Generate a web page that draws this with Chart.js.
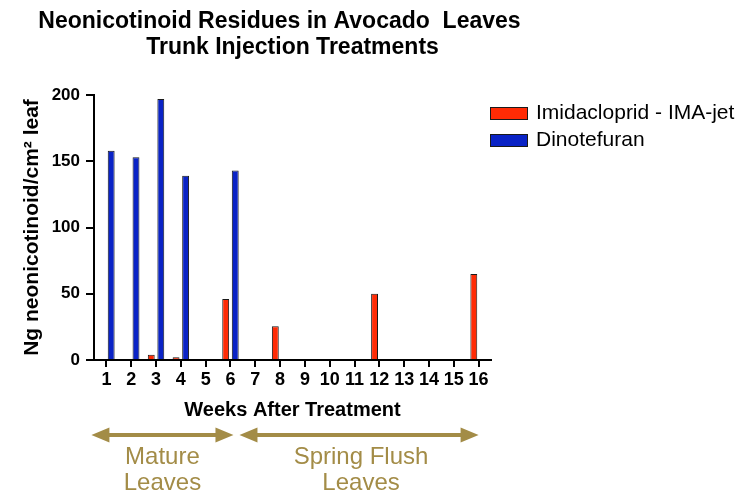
<!DOCTYPE html>
<html>
<head>
<meta charset="utf-8">
<script src="https://cdn.jsdelivr.net/npm/chart.js@4"></script>
<style>
  html, body { margin: 0; padding: 0; background: #fff; }
  #wrap { width: 744px; height: 496px; }
</style>
</head>
<body>
<div id="wrap"><canvas id="residueChart" width="744" height="496"></canvas></div>
<script>
// weeks after treatment
const weeks = ["1", "2", "3", "4", "5", "6", "7", "8", "9", "10", "11", "12", "13", "14", "15", "16"];
// ng neonicotinoid / cm2 leaf, null = no sample
const imidacloprid = [null, null, 4, 2, null, 46, null, 25.5, null, null, null, 50, null, null, null, 65];
const dinotefuran = [158, 153, 197, 139, null, 143, null, null, null, null, null, null, null, null, null, null];
const yTicks = [0, 50, 100, 150, 200];
const titleLines = ["Neonicotinoid Residues in Avocado  Leaves", "Trunk Injection Treatments"];

const fontFamily = "'Liberation Sans', Arial, sans-serif";
const gold = "#A38C47";

// title drawn by hand so line 1 isn't squeezed into the plot width
const topTitle = {
  id: "topTitle",
  afterDraw(chart) {
    const ctx = chart.ctx;
    const mid = (chart.chartArea.left + chart.chartArea.right) / 2;
    ctx.save();
    ctx.font = "bold 23px " + fontFamily;
    ctx.fillStyle = "#000";
    ctx.textAlign = "center";
    ctx.textBaseline = "middle";
    ctx.fillText(titleLines[0], mid - 13, 22);
    ctx.fillText(titleLines[1], mid, 48);
    ctx.restore();
  }
};

// legend drawn by hand: the built-in right legend gets capped too narrow
const sideLegend = {
  id: "sideLegend",
  afterDraw(chart) {
    const ctx = chart.ctx;
    const left = chart.chartArea.right - 1;
    ctx.save();
    ctx.font = "21px " + fontFamily;
    ctx.textBaseline = "middle";
    chart.data.datasets.forEach((ds, i) => {
      const cy = 113.5 + i * 27;
      ctx.fillStyle = ds.backgroundColor;
      ctx.fillRect(left, cy - 6.5, 38, 13);
      ctx.strokeStyle = ds.borderColor;
      ctx.lineWidth = 1;
      ctx.strokeRect(left + 0.5, cy - 6, 37, 12);
      ctx.fillStyle = "#000";
      ctx.fillText(ds.label, left + 46, cy);
    });
    ctx.restore();
  }
};

// arrows + "Mature Leaves" / "Spring Flush Leaves" under the x axis
const leafStages = {
  id: "leafStages",
  afterDraw(chart) {
    const ctx = chart.ctx;
    const x = chart.scales.x;
    const y = 435;

    function arrow(x1, x2) {
      const head = 18, half = 7.5;
      ctx.beginPath();
      ctx.moveTo(x1, y);
      ctx.lineTo(x1 + head, y - half);
      ctx.lineTo(x1 + head, y - 2);
      ctx.lineTo(x2 - head, y - 2);
      ctx.lineTo(x2 - head, y - half);
      ctx.lineTo(x2, y);
      ctx.lineTo(x2 - head, y + half);
      ctx.lineTo(x2 - head, y + 2);
      ctx.lineTo(x1 + head, y + 2);
      ctx.lineTo(x1 + head, y + half);
      ctx.closePath();
      ctx.fill();
    }

    ctx.save();
    ctx.fillStyle = gold;
    const a1 = x.getPixelForValue(0) - 15;
    const a2 = x.getPixelForValue(5) + 3;
    const b1 = x.getPixelForValue(5) + 9;
    const b2 = x.getPixelForValue(15);
    arrow(a1, a2);
    arrow(b1, b2);

    ctx.font = "24px " + fontFamily;
    ctx.textAlign = "center";
    ctx.textBaseline = "middle";
    ctx.fillText("Mature", (a1 + a2) / 2, 457);
    ctx.fillText("Leaves", (a1 + a2) / 2, 483);
    ctx.fillText("Spring Flush", (b1 + b2) / 2 + 2, 457);
    ctx.fillText("Leaves", (b1 + b2) / 2 + 2, 483);
    ctx.restore();
  }
};

const ctx = document.getElementById("residueChart").getContext("2d");
const chart = new Chart(ctx, {
  type: "bar",
  data: {
    labels: weeks,
    datasets: [
      {
        label: "Imidacloprid - IMA-jet",
        data: imidacloprid,
        backgroundColor: "#FF2B05",
        borderColor: "#1a1a1a",
        borderWidth: 1,
        categoryPercentage: 0.77,
        barPercentage: 0.72,
      },
      {
        label: "Dinotefuran",
        data: dinotefuran,
        backgroundColor: "#0A23C6",
        borderColor: "#1a1a1a",
        borderWidth: 1,
        categoryPercentage: 0.77,
        barPercentage: 0.72,
      },
    ],
  },
  options: {
    responsive: false,
    animation: false,
    layout: {
      padding: { top: 95, left: 10, right: 253, bottom: 74 },
    },
    plugins: {
      title: { display: false },
      legend: { display: false },
      tooltip: { enabled: false },
    },
    scales: {
      x: {
        afterFit(scale) { scale.height = 62; },
        grid: {
          display: true,
          drawOnChartArea: false,
          offset: false,
          color: "#000",
          lineWidth: 2,
          tickLength: 7,
        },
        border: { color: "#000", width: 2 },
        ticks: {
          color: "#000",
          autoSkip: false,
          maxRotation: 0,
          minRotation: 0,
          padding: 2,
          font: { family: fontFamily, size: 18, weight: "bold" },
        },
        title: {
          display: true,
          text: "Weeks After Treatment",
          color: "#000",
          font: { family: fontFamily, size: 20, weight: "bold", lineHeight: 1.2 },
          padding: { top: 0, bottom: 0 },
        },
      },
      y: {
        min: 0,
        max: 200,
        afterFit(scale) { scale.width = 84; },
        afterBuildTicks(scale) { scale.ticks = yTicks.map((v) => ({ value: v })); },
        grid: {
          display: true,
          drawOnChartArea: false,
          color: "#000",
          lineWidth: 2,
          tickLength: 8,
        },
        border: { color: "#000", width: 2 },
        ticks: {
          color: "#000",
          padding: 6,
          font: { family: fontFamily, size: 17, weight: "bold" },
        },
        title: {
          display: true,
          text: "Ng neonicotinoid/cm² leaf",
          color: "#000",
          font: { family: fontFamily, size: 21, weight: "bold", lineHeight: 1.2 },
          padding: { top: 10, bottom: 0 },
        },
      },
    },
  },
  plugins: [topTitle, sideLegend, leafStages],
});
</script>
</body>
</html>
